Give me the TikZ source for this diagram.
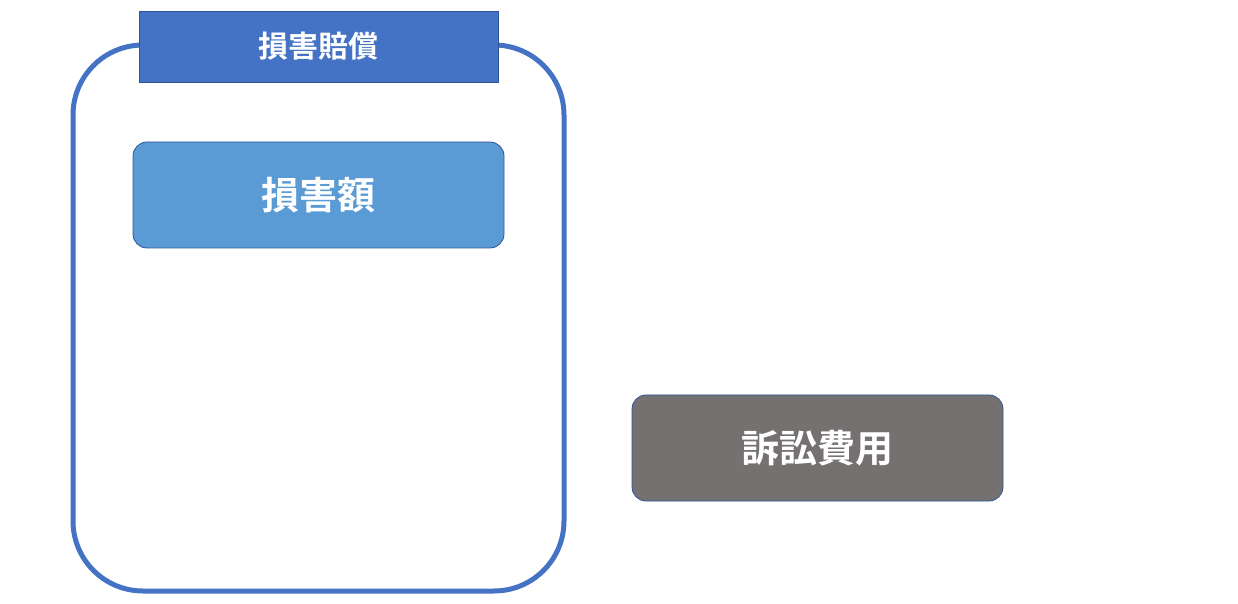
\documentclass[tikz,border=0pt]{standalone}
\usepackage{fontspec}
\newfontfamily\cjk{Noto Sans CJK JP}[BoldFont={* Bold}]
\usetikzlibrary{positioning}
\definecolor{frameblue}{HTML}{4472C4}
\definecolor{boxblue}{HTML}{5B9BD5}
\definecolor{boxgray}{HTML}{767171}
\definecolor{edgeblue}{HTML}{2F5597}
\tikzset{
  box/.style={draw=edgeblue, thin, rounded corners=7pt, text=white, font=\cjk\bfseries\fontsize{19}{22}\selectfont,
    minimum width=185.5pt, minimum height=53pt, inner sep=0pt},
  tag/.style={draw=edgeblue, thin, fill=frameblue, text=white, font=\cjk\bfseries\fontsize{15}{18}\selectfont,
    minimum width=179.5pt, minimum height=35.5pt, inner sep=0pt}
}
\begin{document}
\begin{tikzpicture}[x=0.5pt,y=-0.5pt]
    \useasboundingbox (0,0) rectangle (1238,604);
    \draw[frameblue, line width=2.5pt, rounded corners=35pt](73,45)rectangle(564,591);
    \node[tag](tag) at (318.5,46.5){損害賠償};
    \node[box, fill=boxblue](damage) at (318.5,195){損害額};
    \node[box, fill=boxgray](cost) at (817.5,448){訴訟費用};
\end{tikzpicture}
\end{document}
